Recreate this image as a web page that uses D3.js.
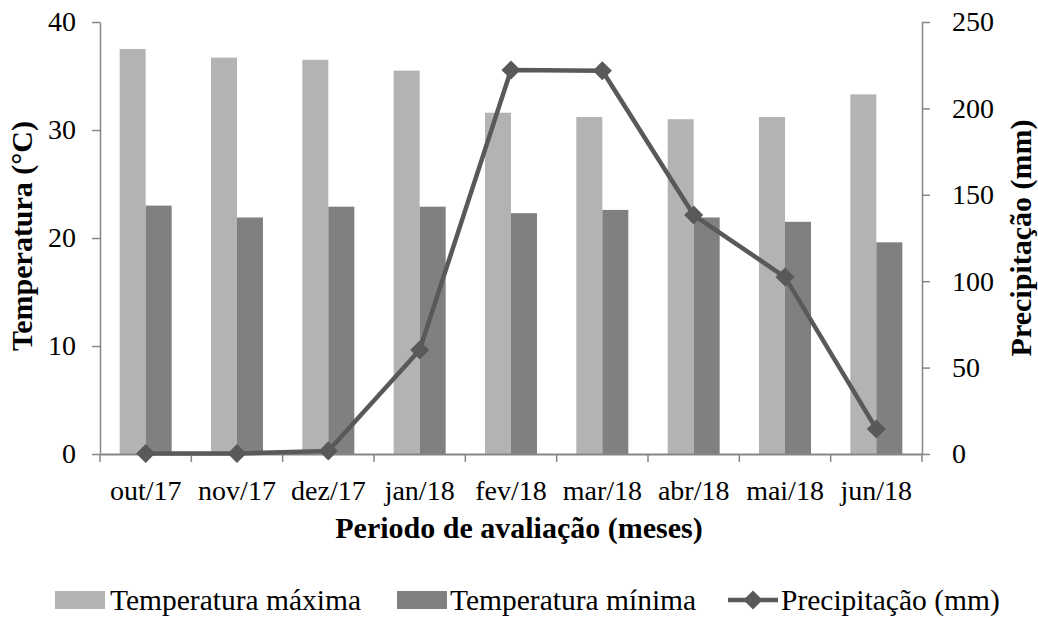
<!DOCTYPE html>
<html><head><meta charset="utf-8">
<script src="https://cdn.jsdelivr.net/npm/d3@7"></script>
<style>body{margin:0;background:#fff}svg{display:block}text{font-family:"Liberation Serif","Times New Roman",Times,serif;fill:#000}</style>
</head><body>
<svg id="c" width="1038" height="618"></svg>
<script>
const months = ["out/17","nov/17","dez/17","jan/18","fev/18","mar/18","abr/18","mai/18","jun/18"];
const tempMax = [37.5,36.7,36.5,35.5,31.6,31.2,31.0,31.2,33.3];
const tempMin = [23.0,21.9,22.9,22.9,22.3,22.6,21.9,21.5,19.6];
const precip = [0.3,0.3,1.8,60.2,222.2,221.8,138.3,102.4,14.5];
const leftTicks = [0,10,20,30,40];
const rightTicks = [0,50,100,150,200,250];
const seriesNames = ["Temperatura máxima","Temperatura mínima","Precipitação (mm)"];

const svg = d3.select("#c");
const L=100,R=922,T=22,B=454;
const axisCol="#868686", lightCol="#b3b3b3", darkCol="#808080", lineCol="#595959";
const FF='"Liberation Serif","Times New Roman",Times,serif';

const x = d3.scaleBand().domain(months).range([L,R]).paddingInner(0).paddingOuter(0);
const yL = d3.scaleLinear().domain([0,40]).range([B,T]);
const yR = d3.scaleLinear().domain([0,250]).range([B,T]);
const bw = 26;

// bars
svg.append("g").selectAll("rect").data(months).join("rect")
  .attr("x",d=>x(d)+x.bandwidth()/2-bw).attr("width",bw)
  .attr("y",(d,i)=>yL(tempMax[i])).attr("height",(d,i)=>B-yL(tempMax[i]))
  .attr("fill",lightCol);
svg.append("g").selectAll("rect").data(months).join("rect")
  .attr("x",d=>x(d)+x.bandwidth()/2).attr("width",bw)
  .attr("y",(d,i)=>yL(tempMin[i])).attr("height",(d,i)=>B-yL(tempMin[i]))
  .attr("fill",darkCol);

// axes
const gl = svg.append("g").attr("transform",`translate(${L},0)`)
  .call(d3.axisLeft(yL).tickValues(leftTicks).tickSize(8).tickPadding(16).tickSizeOuter(0));
const gr = svg.append("g").attr("transform",`translate(${R},0)`)
  .call(d3.axisRight(yR).tickValues(rightTicks).tickSize(8).tickPadding(22).tickSizeOuter(0));
const gb = svg.append("g").attr("transform",`translate(0,${B})`)
  .call(d3.axisBottom(x).tickSize(0).tickPadding(26).tickSizeOuter(0));
svg.append("g").selectAll("line").data(d3.range(months.length+1)).join("line")
  .attr("x1",i=>L+i*x.step()).attr("x2",i=>L+i*x.step())
  .attr("y1",B).attr("y2",B+8).attr("stroke",axisCol).attr("stroke-width",1.5);
[gl,gr,gb].forEach(g=>{
  g.attr("font-family",FF);
  g.select(".domain").attr("stroke",axisCol).attr("stroke-width",1.5);
  g.selectAll(".tick line").attr("stroke",axisCol).attr("stroke-width",1.5);
  g.selectAll(".tick text").attr("font-size",28).attr("fill","#000");
});
gb.select(".domain").attr("stroke-width",2);

// line
const lineGen = d3.line().x((d,i)=>x(months[i])+x.bandwidth()/2).y(d=>yR(d));
svg.append("path").datum(precip).attr("d",lineGen).attr("fill","none")
  .attr("stroke",lineCol).attr("stroke-width",4.5).attr("stroke-linejoin","round");
const ds=13.5;
svg.append("g").selectAll("rect").data(precip).join("rect")
  .attr("x",-ds/2).attr("y",-ds/2).attr("width",ds).attr("height",ds)
  .attr("transform",(d,i)=>`translate(${x(months[i])+x.bandwidth()/2},${yR(d)}) rotate(45)`)
  .attr("fill",lineCol);

// titles
svg.append("text").attr("x",519).attr("y",538).attr("text-anchor","middle")
  .attr("font-size",30).attr("font-weight","bold").text("Periodo de avaliação (meses)");
svg.append("text").attr("transform","translate(32,236) rotate(-90)").attr("text-anchor","middle")
  .attr("font-size",30).attr("font-weight","bold").text("Temperatura (°C)");
svg.append("text").attr("transform","translate(1031,238) rotate(-90)").attr("text-anchor","middle")
  .attr("font-size",30).attr("font-weight","bold").text("Precipitação (mm)");

// legend
const ly=600;
const lg = svg.append("g");
lg.append("rect").attr("x",55).attr("y",ly-9).attr("width",50).attr("height",18).attr("fill",lightCol);
lg.append("text").attr("x",110).attr("y",ly+10).attr("font-size",29.5).text(seriesNames[0]);
lg.append("rect").attr("x",397).attr("y",ly-9).attr("width",50).attr("height",18).attr("fill",darkCol);
lg.append("text").attr("x",450).attr("y",ly+10).attr("font-size",29.5).text(seriesNames[1]);
lg.append("line").attr("x1",728).attr("x2",778).attr("y1",ly).attr("y2",ly).attr("stroke",lineCol).attr("stroke-width",4.5);
lg.append("rect").attr("x",-ds/2).attr("y",-ds/2).attr("width",ds).attr("height",ds)
  .attr("transform",`translate(753,${ly}) rotate(45)`).attr("fill",lineCol);
lg.append("text").attr("x",781).attr("y",ly+10).attr("font-size",29.5).text(seriesNames[2]);
</script>
</body></html>
